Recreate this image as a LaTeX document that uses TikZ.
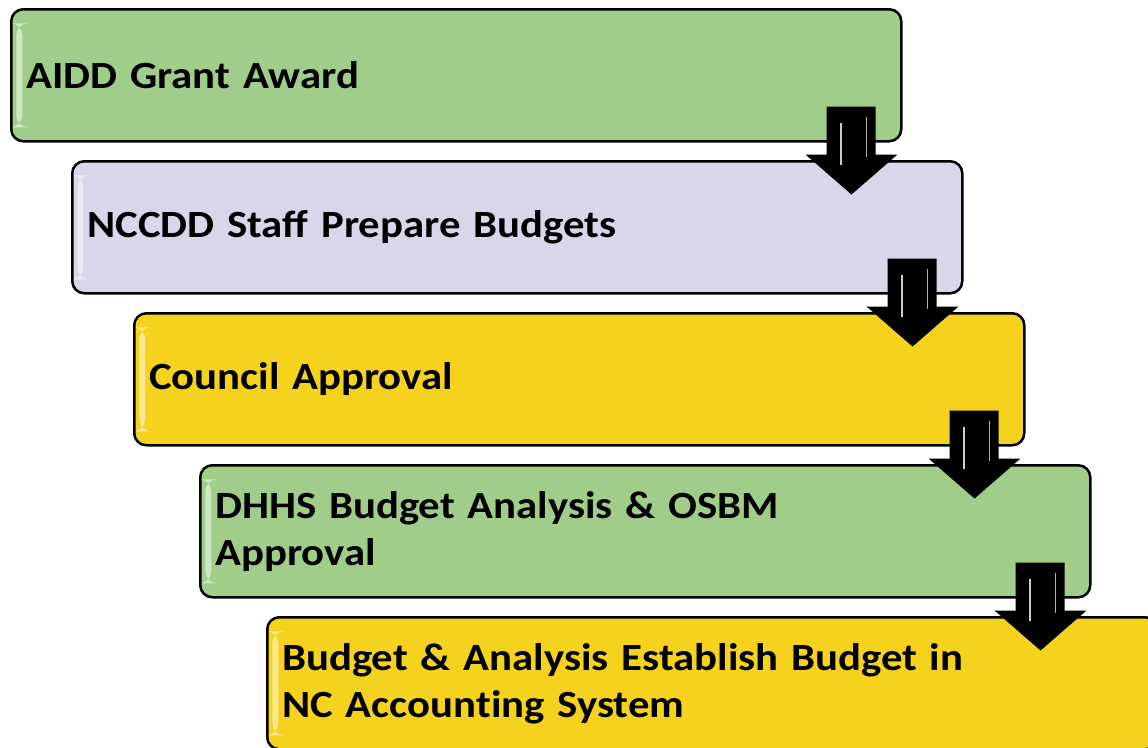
\documentclass[tikz,border=0pt]{standalone}
\usepackage{fontspec}
\setmainfont{Carlito}[FakeStretch=1.11]
\usetikzlibrary{positioning,calc}

\definecolor{stepgreen}{RGB}{160,206,138}
\definecolor{steplilac}{RGB}{216,214,232}
\definecolor{stepyellow}{RGB}{244,210,30}

\tikzset{
  stepbox/.style={draw=black, line width=2.5pt, rounded corners=12pt,
    minimum width=890pt, minimum height=132pt, inner xsep=14pt,
    text width=860pt, align=left, anchor=north west,
    font=\fontsize{38.5}{47}\selectfont\bfseries,
    path picture={\fill[white, opacity=0.5]
      ([shift={(5,14)}]path picture bounding box.north west) rectangle
      ([shift={(11,-14)}]path picture bounding box.south west);}},
  stepdown/.style={fill=black}
}

% block arrow hanging from the lower right corner of a box
\newcommand{\stepdownarrow}[1]{
  \fill[stepdown] ([shift={(-76,-36)}]#1.south east) -- ([shift={(-27,-36)}]#1.south east)
    -- ([shift={(-27,12)}]#1.south east) -- ([shift={(-5,12)}]#1.south east)
    -- ([shift={(-51,52)}]#1.south east) -- ([shift={(-97,12)}]#1.south east)
    -- ([shift={(-76,12)}]#1.south east) -- cycle;
  \draw[gray!40, line width=2pt] ([shift={(-62,-20)}]#1.south east) -- ([shift={(-62,22)}]#1.south east);
  \draw[gray!60, line width=1.5pt] ([shift={(-36,-26)}]#1.south east) -- ([shift={(-36,14)}]#1.south east);
}

\begin{document}
\begin{tikzpicture}[x=1pt, y=-1pt]
    \useasboundingbox (0,0) rectangle (1148,747);

    % Draw steps
    \node[stepbox, fill=stepgreen] (award) at (10, 8) {AIDD Grant Award};
    \node[stepbox, fill=steplilac] (prepare) at (71, 160) {NCCDD Staff Prepare Budgets};
    \node[stepbox, fill=stepyellow] (council) at (133, 312) {Council Approval};
    \node[stepbox, fill=stepgreen] (dhhs) at (199, 464) {DHHS Budget Analysis \& OSBM\\Approval};
    \node[stepbox, fill=stepyellow] (establish) at (266, 616) {Budget \& Analysis Establish Budget in\\NC Accoun\hbox{t}ing System};

    % Draw arrows between steps
    \stepdownarrow{award}
    \stepdownarrow{prepare}
    \stepdownarrow{council}
    \stepdownarrow{dhhs}
\end{tikzpicture}
\end{document}
